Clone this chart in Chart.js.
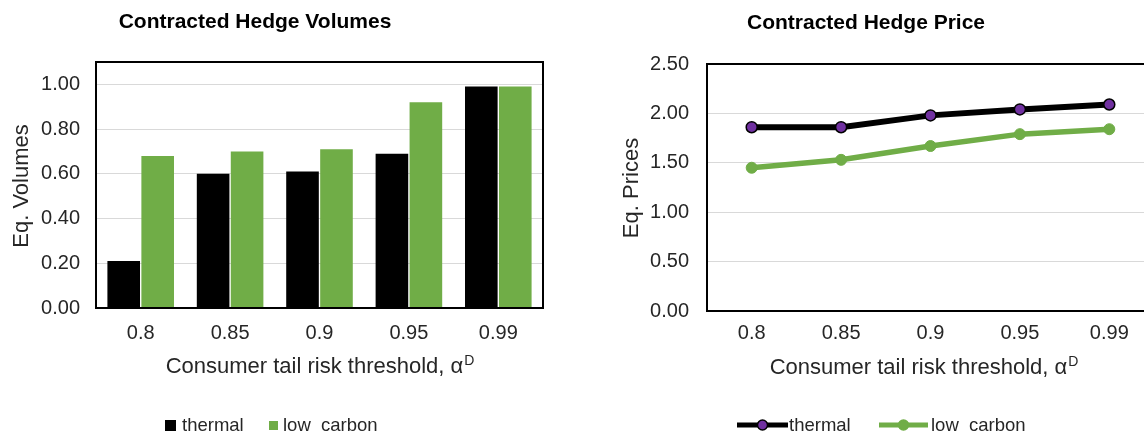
<!DOCTYPE html>
<html>
<head>
<meta charset="utf-8">
<title>Contracted Hedge Volumes and Price</title>
<script src="https://cdn.jsdelivr.net/npm/chart.js@4.4.1/dist/chart.umd.min.js"></script>
<style>
  html, body { margin: 0; padding: 0; background: #fff; overflow: hidden; }
  #wrap { position: relative; width: 1144px; height: 432px; overflow: hidden; }
  #vol-chart   { position: absolute; left: 0;     top: 0; }
  #price-chart { position: absolute; left: 580px; top: 0; }
</style>
</head>
<body>
<div id="wrap">
  <canvas id="vol-chart" width="560" height="432"></canvas>
  <canvas id="price-chart" width="600" height="432"></canvas>
</div>
<script>
/* ── data ─────────────────────────────────────── */
const categories     = ['0.8', '0.85', '0.9', '0.95', '0.99'];
const seriesNames    = ['thermal', 'low  carbon'];
const volThermal     = [0.21, 0.60, 0.61, 0.69, 0.99];
const volLowCarbon   = [0.68, 0.70, 0.71, 0.92, 0.99];
const priceThermal   = [1.86, 1.86, 1.98, 2.04, 2.09];
const priceLowCarbon = [1.45, 1.53, 1.67, 1.79, 1.84];
const volTicks       = [0, 0.2, 0.4, 0.6, 0.8, 1.0];
const priceTicks     = [0, 0.5, 1.0, 1.5, 2.0, 2.5];

const xTitle    = 'Consumer tail risk threshold, α';
const xTitleSup = 'D';

/* ── style ────────────────────────────────────── */
const FONT   = "'Liberation Sans', Arial, sans-serif";
const GREEN  = '#70AD47';
const PURPLE = '#7030A0';
const GRID   = '#D9D9D9';
const TEXT   = '#262626';

// frame, titles and legend drawn straight onto the canvas
function decor(cfg) {
  return {
    id: 'decor',
    afterDatasetsDraw(chart) {
      const { ctx, chartArea: a } = chart;
      ctx.save();
      ctx.strokeStyle = '#000';
      ctx.lineWidth = 2;
      ctx.strokeRect(a.left, a.top, a.right - a.left, a.bottom - a.top);
      ctx.restore();
    },
    afterDraw(chart) {
      const ctx = chart.ctx;
      ctx.save();
      ctx.textBaseline = 'middle';
      ctx.textAlign = 'center';

      ctx.fillStyle = '#000';
      ctx.font = `bold 21px ${FONT}`;
      ctx.fillText(cfg.title, cfg.titleX, cfg.titleY);

      ctx.fillStyle = TEXT;
      ctx.font = `22px ${FONT}`;
      ctx.save();
      ctx.translate(cfg.yTitleX, cfg.yTitleY);
      ctx.rotate(-Math.PI / 2);
      ctx.fillText(cfg.yTitle, 0, 0);
      ctx.restore();

      // axis title with raised superscript
      ctx.font = `22px ${FONT}`;
      const w1 = ctx.measureText(xTitle).width;
      ctx.font = `14px ${FONT}`;
      const w2 = ctx.measureText(xTitleSup).width;
      const x0 = cfg.xTitleX - (w1 + w2 + 1) / 2;
      ctx.textAlign = 'left';
      ctx.font = `22px ${FONT}`;
      ctx.fillText(xTitle, x0, cfg.xTitleY);
      ctx.font = `14px ${FONT}`;
      ctx.fillText(xTitleSup, x0 + w1 + 1, cfg.xTitleY - 6);

      ctx.textBaseline = 'alphabetic';
      ctx.font = `18.5px ${FONT}`;
      cfg.legend(ctx);
      ctx.restore();
    }
  };
}

const tickFont = { family: FONT, size: 20 };

/* ── volumes (bar) ────────────────────────────── */
new Chart(document.getElementById('vol-chart'), {
  type: 'bar',
  data: {
    labels: categories,
    datasets: [
      { label: seriesNames[0], data: volThermal,   backgroundColor: '#000' },
      { label: seriesNames[1], data: volLowCarbon, backgroundColor: GREEN }
    ]
  },
  options: {
    responsive: false, animation: false,
    categoryPercentage: 0.76, barPercentage: 0.96,
    layout: { padding: { top: 62, right: 17, left: 0, bottom: 0 } },
    plugins: { legend: { display: false }, tooltip: { enabled: false } },
    scales: {
      x: {
        grid: { display: false, drawTicks: false }, border: { display: false },
        ticks: { color: TEXT, font: tickFont, padding: 13 },
        afterFit: s => { s.height = 124; }
      },
      y: {
        min: 0, max: 1.1,
        grid: { color: GRID, drawTicks: false }, border: { display: false },
        ticks: { color: TEXT, font: tickFont, padding: 16, callback: v => v.toFixed(2) },
        afterBuildTicks: s => { s.ticks = volTicks.map(v => ({ value: v })); },
        afterFit: s => { s.width = 96; }
      }
    }
  },
  plugins: [decor({
    title: 'Contracted Hedge Volumes', titleX: 255, titleY: 22,
    yTitle: 'Eq. Volumes', yTitleX: 22, yTitleY: 186,
    xTitleX: 320, xTitleY: 367,
    legend(ctx) {
      ctx.fillStyle = '#000';
      ctx.fillRect(165, 420, 11, 11);
      ctx.fillStyle = TEXT;
      ctx.fillText(seriesNames[0], 182, 430.5);
      ctx.fillStyle = GREEN;
      ctx.fillRect(269, 421, 9, 9);
      ctx.fillStyle = TEXT;
      ctx.fillText(seriesNames[1], 283, 430.5);
    }
  })]
});

/* ── prices (line) ────────────────────────────── */
function lineKey(ctx, x1, x2, y, stroke, fill, border) {
  ctx.strokeStyle = stroke;
  ctx.lineWidth = 5;
  ctx.beginPath(); ctx.moveTo(x1, y); ctx.lineTo(x2, y); ctx.stroke();
  ctx.beginPath();
  ctx.arc((x1 + x2) / 2, y, 5, 0, Math.PI * 2);
  ctx.fillStyle = fill; ctx.fill();
  ctx.lineWidth = 1.5; ctx.strokeStyle = border; ctx.stroke();
}

new Chart(document.getElementById('price-chart'), {
  type: 'line',
  data: {
    labels: categories,
    datasets: [
      {
        label: seriesNames[0], data: priceThermal,
        borderColor: '#000', borderWidth: 6,
        pointRadius: 5.5, pointBackgroundColor: PURPLE,
        pointBorderColor: '#000', pointBorderWidth: 1.5
      },
      {
        label: seriesNames[1], data: priceLowCarbon,
        borderColor: GREEN, borderWidth: 5.5,
        pointRadius: 5.5, pointBackgroundColor: GREEN,
        pointBorderColor: GREEN, pointBorderWidth: 1
      }
    ]
  },
  options: {
    responsive: false, animation: false,
    layout: { padding: { top: 64, right: 26, left: 0, bottom: 0 } },
    plugins: { legend: { display: false }, tooltip: { enabled: false } },
    scales: {
      x: {
        offset: true,
        grid: { display: false, drawTicks: false }, border: { display: false },
        ticks: { color: TEXT, font: tickFont, padding: 10 },
        afterFit: s => { s.height = 121; }
      },
      y: {
        min: 0, max: 2.5,
        grid: { color: GRID, drawTicks: false }, border: { display: false },
        ticks: { color: TEXT, font: tickFont, padding: 18, callback: v => v.toFixed(2) },
        afterBuildTicks: s => { s.ticks = priceTicks.map(v => ({ value: v })); },
        afterFit: s => { s.width = 127; }
      }
    }
  },
  plugins: [decor({
    title: 'Contracted Hedge Price', titleX: 286, titleY: 23,
    yTitle: 'Eq. Prices', yTitleX: 52, yTitleY: 188,
    xTitleX: 344, xTitleY: 368,
    legend(ctx) {
      lineKey(ctx, 157, 208, 425, '#000', PURPLE, '#000');
      ctx.fillStyle = TEXT;
      ctx.fillText(seriesNames[0], 209, 431);
      lineKey(ctx, 299, 348, 425, GREEN, GREEN, GREEN);
      ctx.fillStyle = TEXT;
      ctx.fillText(seriesNames[1], 351, 431);
    }
  })]
});
</script>
</body>
</html>
